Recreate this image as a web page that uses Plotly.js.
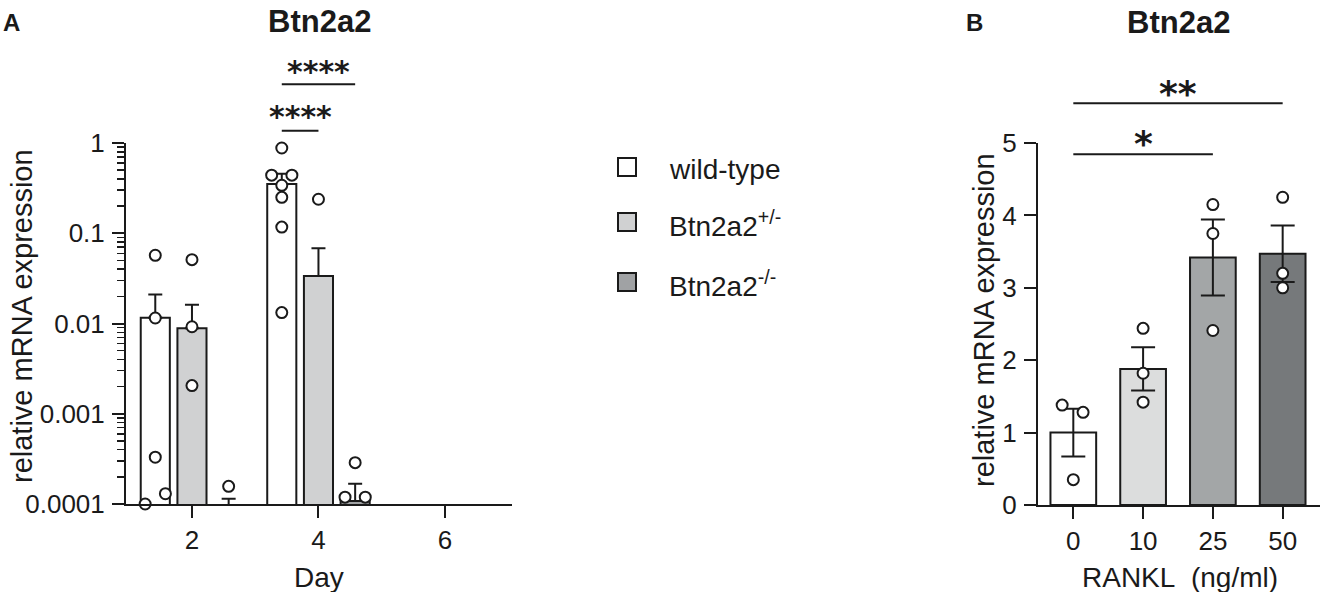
<!DOCTYPE html>
<html>
<head>
<meta charset="utf-8">
<script src="https://cdn.plot.ly/plotly-3.0.1.min.js"></script>
<style>html,body{margin:0;padding:0;background:#fff;}#chart{width:1320px;height:592px;}</style>
</head>
<body>
<div id="chart"></div>
<script>
// ---------- Panel A data ----------
const days = [2, 4, 6];
const groupNames = ['wild-type', 'Btn2a2<sup>+/-</sup>', 'Btn2a2<sup>-/-</sup>'];
const wtMean  = [0.0116, 0.352, null];
const wtSem   = [0.0094, 0.105, null];
const hetMean = [0.00885, 0.0336, null];
const hetSem  = [0.0073, 0.0344, null];
const koMean  = [0.00005, 0.000108, null];
const koSem   = [0.000064, 0.00006, null];
const wtDay2Pts  = [0.057, 0.0115, 0.00033, 0.00013, 0.0001];
const wtDay4Pts  = [0.88, 0.44, 0.44, 0.34, 0.25, 0.117, 0.0132];
const hetDay2Pts = [0.051, 0.0092, 0.00205];
const hetDay4Pts = [0.238];
const koDay2Pts  = [0.000157];
const koDay4Pts  = [0.000287, 0.000119, 0.000119];
const wtDay2Jit  = [0, 0, 0, 0.16, -0.16];
const wtDay4Jit  = [0, -0.16, 0.16, 0, 0, 0, 0];
const hetDay2Jit = [0, 0, 0];
const hetDay4Jit = [0];
const koDay2Jit  = [0];
const koDay4Jit  = [0, -0.16, 0.16];
const yTickValsA = [0.0001, 0.001, 0.01, 0.1, 1];
const yTickTextA = ['0.0001', '0.001', '0.01', '0.1', '1'];
const sigA = ['****', '****'];

// ---------- Panel B data ----------
const doses = ['0', '10', '25', '50'];
const bMean = [1.0, 1.88, 3.42, 3.47];
const bSem  = [0.33, 0.30, 0.525, 0.39];
const b0Pts  = [1.38, 1.28, 0.35];
const b10Pts = [2.44, 1.82, 1.42];
const b25Pts = [4.15, 3.75, 2.41];
const b50Pts = [4.25, 3.2, 3.0];
const b0Jit  = [-0.16, 0.14, 0];
const bZeroJit = [0, 0, 0];
const sigB = ['*', '**'];

// ---------- styles ----------
const FONT = 'Liberation Sans, Arial, Helvetica, sans-serif';
const INK = '#1a1a1a';
const colorsA = ['#ffffff', '#d0d1d2', '#a0a2a4'];
const colorsB = ['#ffffff', '#dcdddd', '#a3a6a7', '#76797b'];
const offsetsA = [-0.58, 0, 0.58];
const W = 1320, H = 592;
const px = x => x / W;
const py = y => 1 - y / H;

const traces = [];
const meansA = [wtMean, hetMean, koMean];
const semsA = [wtSem, hetSem, koSem];
meansA.forEach((m, i) => {
  traces.push({
    type: 'bar', xaxis: 'x', yaxis: 'y',
    x: days.map(d => d + offsetsA[i]), y: m, width: 0.46,
    marker: {color: colorsA[i], line: {color: INK, width: 2}},
    error_y: {type: 'data', symmetric: false, array: semsA[i], arrayminus: semsA[i].map(() => 0),
              color: INK, thickness: 2, width: 7},
    showlegend: false, hoverinfo: 'skip'
  });
});
const ptsA = [
  [wtDay2Pts, wtDay2Jit, 0, 0], [wtDay4Pts, wtDay4Jit, 1, 0],
  [hetDay2Pts, hetDay2Jit, 0, 1], [hetDay4Pts, hetDay4Jit, 1, 1],
  [koDay2Pts, koDay2Jit, 0, 2], [koDay4Pts, koDay4Jit, 1, 2]
];
ptsA.forEach(([vals, jit, di, gi]) => {
  traces.push({
    type: 'scatter', mode: 'markers', xaxis: 'x', yaxis: 'y', cliponaxis: false,
    x: vals.map((v, k) => days[di] + offsetsA[gi] + jit[k]), y: vals,
    marker: {symbol: 'circle', size: 11, color: '#ffffff', line: {color: INK, width: 2}},
    showlegend: false, hoverinfo: 'skip'
  });
});

// Panel B
const bIdx = doses.map((d, i) => i);
traces.push({
  type: 'bar', xaxis: 'x2', yaxis: 'y2', x: bIdx, y: bMean, width: 0.655,
  marker: {color: colorsB, line: {color: INK, width: 2}},
  error_y: {type: 'data', array: bSem, color: INK, thickness: 2, width: 12},
  showlegend: false, hoverinfo: 'skip'
});
[[b0Pts, b0Jit, 0], [b10Pts, bZeroJit, 1], [b25Pts, bZeroJit, 2], [b50Pts, bZeroJit, 3]].forEach(([vals, jit, i]) => {
  traces.push({
    type: 'scatter', mode: 'markers', xaxis: 'x2', yaxis: 'y2', cliponaxis: false,
    x: vals.map((v, k) => i + jit[k]), y: vals,
    marker: {symbol: 'circle', size: 11, color: '#ffffff', line: {color: INK, width: 2}},
    showlegend: false, hoverinfo: 'skip'
  });
});

const minorA = [];
for (let e = -4; e < 0; e++) for (let k = 2; k <= 9; k++) minorA.push(k * Math.pow(10, e));

const axisCommon = {showline: true, linecolor: INK, linewidth: 2, ticks: 'outside', ticklen: 12,
  tickwidth: 2, tickcolor: INK, showgrid: false, zeroline: false, fixedrange: true,
  tickfont: {family: FONT, size: 26, color: INK}};

const shapes = [];
const annotations = [];
function label(x, y, text, size, opts) {
  annotations.push(Object.assign({xref: 'paper', yref: 'paper', x: px(x), y: py(y), xanchor: 'center', yanchor: 'middle',
    text: text, showarrow: false, font: {family: FONT, size: size, color: INK}}, opts || {}));
}
// legend
groupNames.forEach((g, i) => {
  const yc = [167, 222, 282][i];
  shapes.push({type: 'rect', xref: 'paper', yref: 'paper', x0: px(618), x1: px(636), y0: py(yc + 9), y1: py(yc - 9),
    fillcolor: colorsA[i], line: {color: INK, width: 2}});
  label(667, yc + 2, g, 28, {xanchor: 'left'});
});
// significance A
const d4 = days[1];
shapes.push({type: 'line', xref: 'x', yref: 'paper', x0: d4 + offsetsA[0], x1: d4 + offsetsA[1], y0: py(130.7), y1: py(130.7), line: {color: INK, width: 2}});
shapes.push({type: 'line', xref: 'x', yref: 'paper', x0: d4 + offsetsA[0], x1: d4 + offsetsA[2], y0: py(84.3), y1: py(84.3), line: {color: INK, width: 2}});
annotations.push({xref: 'x', yref: 'paper', x: d4 + (offsetsA[0] + offsetsA[1]) / 2, y: py(117), xanchor: 'center', yanchor: 'middle', text: '<b>' + sigA[0] + '</b>', showarrow: false, font: {family: 'DejaVu Sans', size: 30, color: INK}});
annotations.push({xref: 'x', yref: 'paper', x: d4 + (offsetsA[0] + offsetsA[2]) / 2, y: py(72), xanchor: 'center', yanchor: 'middle', text: '<b>' + sigA[1] + '</b>', showarrow: false, font: {family: 'DejaVu Sans', size: 30, color: INK}});
// significance B
shapes.push({type: 'line', xref: 'x2', yref: 'paper', x0: 0, x1: 2, y0: py(154.3), y1: py(154.3), line: {color: INK, width: 2}});
shapes.push({type: 'line', xref: 'x2', yref: 'paper', x0: 0, x1: 3, y0: py(103.3), y1: py(103.3), line: {color: INK, width: 2}});
annotations.push({xref: 'x2', yref: 'paper', x: 1, y: py(143), xanchor: 'center', yanchor: 'middle', text: '<b>' + sigB[0] + '</b>', showarrow: false, font: {family: 'DejaVu Sans', size: 36, color: INK}});
annotations.push({xref: 'x2', yref: 'paper', x: 1.5, y: py(93), xanchor: 'center', yanchor: 'middle', text: '<b>' + sigB[1] + '</b>', showarrow: false, font: {family: 'DejaVu Sans', size: 36, color: INK}});
// titles & labels
label(319, 21, '<b>Btn2a2</b>', 31);
label(1178, 22, '<b>Btn2a2</b>', 31);
label(11, 23, '<b>A</b>', 24);
label(974, 22, '<b>B</b>', 24);
label(22, 316, 'relative mRNA expression', 29, {textangle: -90});
label(984, 320, 'relative mRNA expression', 29, {textangle: -90});
label(319, 577, 'Day', 28);
label(1180, 577, 'RANKL&nbsp;&nbsp;(ng/ml)', 28);

const layout = {
  width: W, height: H, autosize: false,
  margin: {l: 0, r: 0, t: 0, b: 0, pad: 0},
  paper_bgcolor: '#ffffff', plot_bgcolor: 'rgba(0,0,0,0)',
  barmode: 'overlay', showlegend: false,
  font: {family: FONT, color: INK},
  xaxis: Object.assign({}, axisCommon, {domain: [px(126), px(512)], range: [0.957, 7.06],
    tickvals: days, ticktext: days.map(String), anchor: 'y', ticklabelstandoff: 0}),
  yaxis: Object.assign({}, axisCommon, {domain: [py(504), py(143)], type: 'log', range: [-4, 0],
    tickvals: yTickValsA, ticktext: yTickTextA, anchor: 'x', ticklabelstandoff: 2,
    minor: {tickvals: minorA, ticks: 'outside', ticklen: 7, tickwidth: 1.5, tickcolor: INK, showgrid: false}}),
  xaxis2: Object.assign({}, axisCommon, {domain: [px(1038), 1], range: [-0.506, 3.535],
    tickvals: bIdx, ticktext: doses, anchor: 'y2', ticklabelstandoff: 0}),
  yaxis2: Object.assign({}, axisCommon, {domain: [py(505), py(143)], range: [0, 5], dtick: 1, tick0: 0,
    anchor: 'x2', ticklabelstandoff: 2}),
  shapes: shapes, annotations: annotations
};

Plotly.newPlot('chart', traces, layout, {displayModeBar: false, staticPlot: true});
</script>
</body>
</html>
